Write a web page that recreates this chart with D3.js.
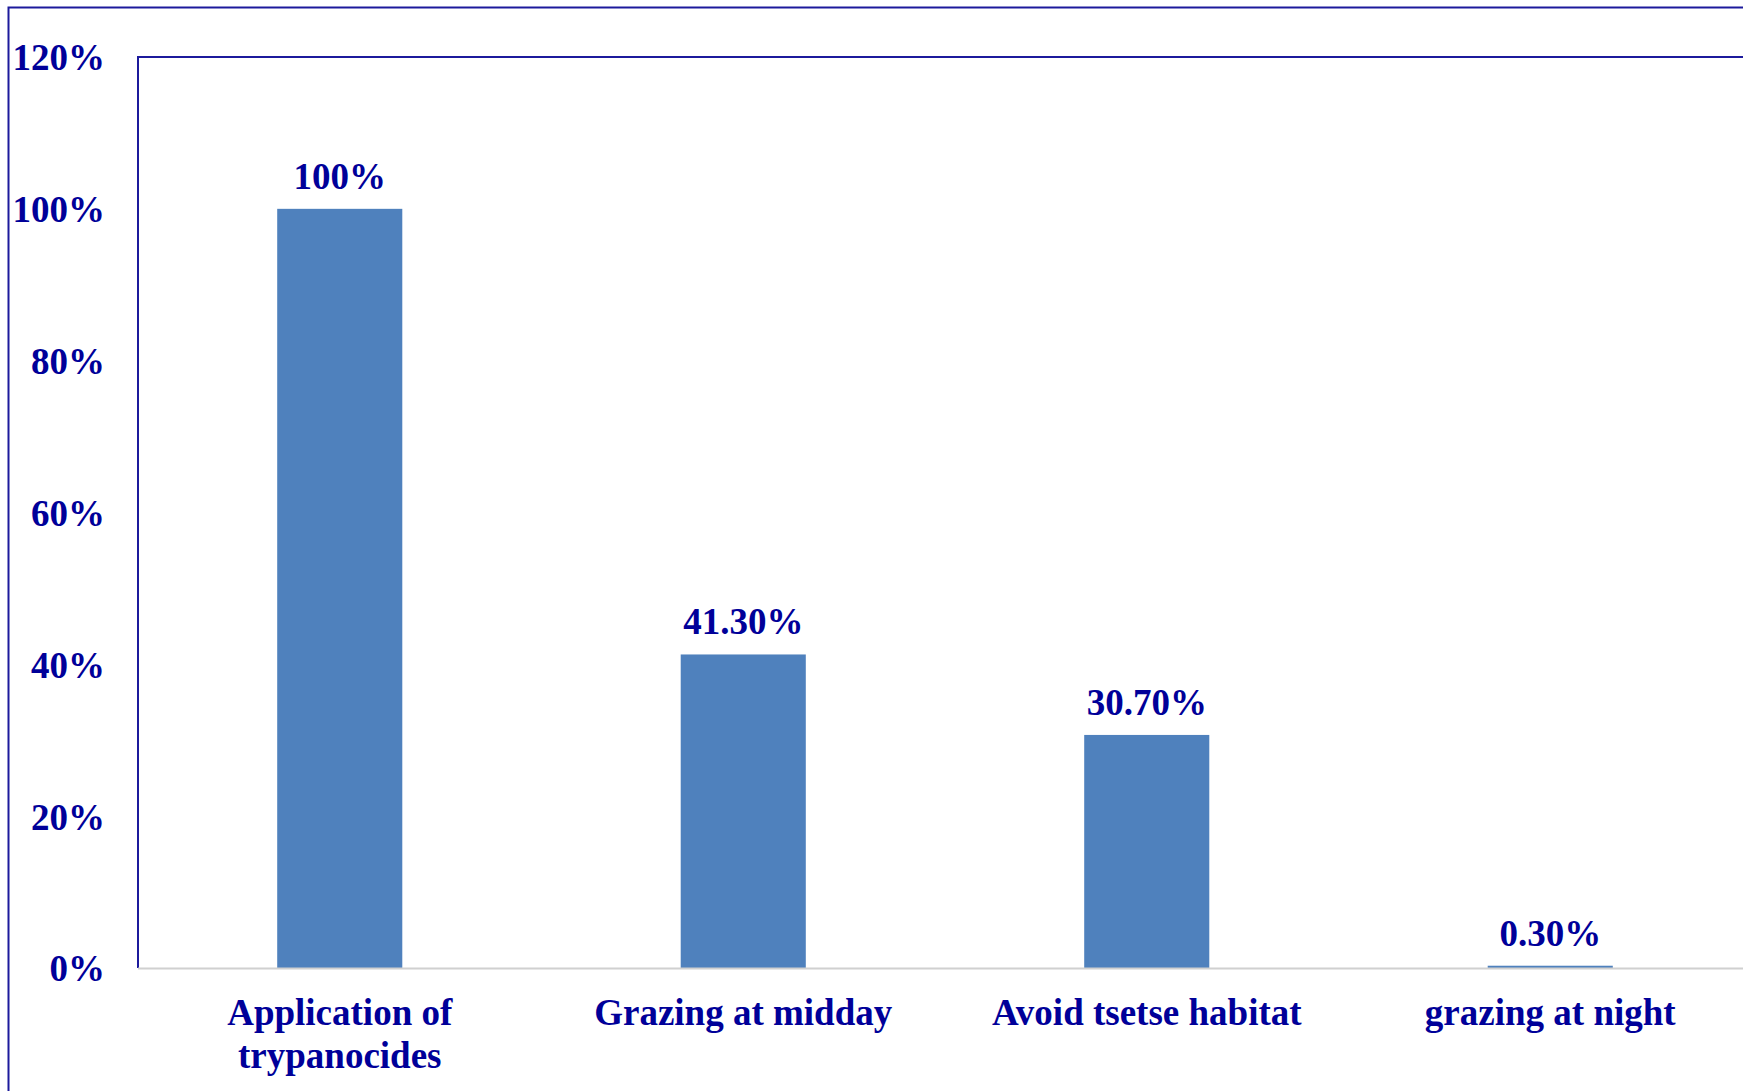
<!DOCTYPE html>
<html>
<head>
<meta charset="utf-8">
<script src="https://cdn.jsdelivr.net/npm/d3@7"></script>
<style>
  html, body { margin: 0; padding: 0; background: #fff; overflow: hidden; }
  svg { display: block; }
</style>
</head>
<body>
<svg id="chart" width="1743" height="1091"></svg>
<script>
const categories = [["Application of", "trypanocides"], ["Grazing at midday"], ["Avoid tsetse habitat"], ["grazing at night"]];
const values = [100, 41.3, 30.7, 0.3];
const valueLabels = ["100%", "41.30%", "30.70%", "0.30%"];
const yTicks = [0, 20, 40, 60, 80, 100, 120];

const W = 1743, H = 1091;
const plot = { left: 138, top: 57, right: 1752, bottom: 968 };
const textColor = "#000099";
const frameColor = "#1c1a9c";
const font = "'Liberation Serif', 'Times New Roman', serif";
const fontSize = "37px";

const svg = d3.select("#chart");

// outer frame
svg.append("rect")
  .attr("x", 8.5).attr("y", 7.5)
  .attr("width", W + 20).attr("height", H + 20)
  .attr("fill", "none").attr("stroke", frameColor).attr("stroke-width", 2);

const x = d3.scaleBand()
  .domain(categories.map((d, i) => i))
  .range([plot.left, plot.right])
  .paddingInner(0.69)
  .paddingOuter(0.345);

const y = d3.scaleLinear().domain([0, 120]).range([plot.bottom, plot.top]);

// plot area top and left border
svg.append("path")
  .attr("d", `M${plot.left},${plot.bottom} V${plot.top} H${W + 10}`)
  .attr("fill", "none").attr("stroke", frameColor).attr("stroke-width", 2);

// bars
svg.append("g").selectAll("rect")
  .data(values)
  .join("rect")
  .attr("x", (d, i) => x(i))
  .attr("width", x.bandwidth())
  .attr("y", d => y(d))
  .attr("height", d => y(0) - y(d))
  .attr("fill", "#4f81bd");

// x axis line
svg.append("line")
  .attr("x1", plot.left).attr("x2", W + 10)
  .attr("y1", plot.bottom + 0.5).attr("y2", plot.bottom + 0.5)
  .attr("stroke", "#d0d0d0").attr("stroke-width", 2);

// y axis tick labels
const yAxis = d3.axisLeft(y).tickValues(yTicks).tickFormat(d => d + "%").tickSize(0).tickPadding(33);
const gy = svg.append("g").attr("transform", `translate(${plot.left},0)`).call(yAxis);
gy.select(".domain").remove();
gy.selectAll("text")
  .attr("fill", textColor)
  .style("font-family", font)
  .style("font-weight", "bold")
  .style("font-size", fontSize)
  .attr("dy", "0.35em");

// value labels
svg.append("g").selectAll("text")
  .data(values)
  .join("text")
  .attr("x", (d, i) => x(i) + x.bandwidth() / 2)
  .attr("y", d => y(d) - 20)
  .attr("text-anchor", "middle")
  .attr("fill", textColor)
  .style("font-family", font)
  .style("font-weight", "bold")
  .style("font-size", fontSize)
  .text((d, i) => valueLabels[i]);

// category labels
const cat = svg.append("g").selectAll("text")
  .data(categories)
  .join("text")
  .attr("x", (d, i) => x(i) + x.bandwidth() / 2)
  .attr("y", 1025)
  .attr("text-anchor", "middle")
  .attr("fill", textColor)
  .style("font-family", font)
  .style("font-weight", "bold")
  .style("font-size", fontSize);
cat.selectAll("tspan")
  .data(d => d)
  .join("tspan")
  .attr("x", function() { return d3.select(this.parentNode).attr("x"); })
  .attr("dy", (d, i) => i === 0 ? 0 : 43)
  .text(d => d);
</script>
</body>
</html>
